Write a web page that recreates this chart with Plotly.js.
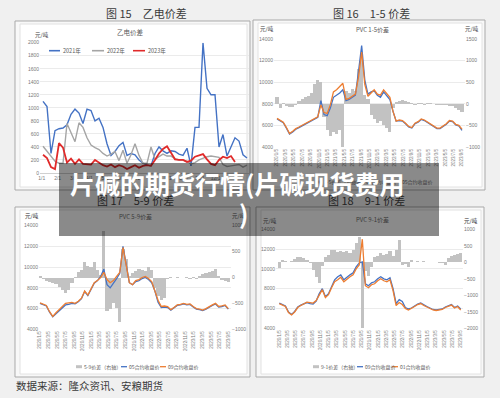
<!DOCTYPE html>
<html><head><meta charset="utf-8">
<script src="https://cdn.plot.ly/plotly-3.0.1.min.js"></script>
<style>html,body{margin:0;padding:0;background:#f0f0f0;}#chart{width:500px;height:398px;}</style>
</head><body><div id="chart"></div>
<script>
// ---------- data ----------
const monthLabels15 = ['1/1','2/1','3/1','4/1','5/1','6/1','7/1','8/1','9/1','10/1','11/1','12/1'];
const names15 = ['2021年','2022年','2023年'];
const y2021 = [1100,1020,300,650,680,690,740,900,980,920,760,980,960,800,840,700,450,270,330,420,470,270,300,280,200,150,120,110,300,400,340,300,340,330,290,270,380,110,700,700,2000,1300,1200,1200,400,590,260,410,540,490,280,230];
const y2022 = [410,330,250,180,150,150,760,620,480,770,700,540,430,390,360,300,260,290,330,190,350,150,280,450,270,150,150,400,210,250,290,260,260,220,200,200,180,140,160,200,230,250,260,250,240,130,100,110,120,130,90,120];
const y2023 = [280,230,90,60,460,390,160,220,140,210,140,130,130,200,160,120,100,130,90,120,100,60,90,120,80,110,120,110,200,300,370,410,310,210,200,200,170,190,250,270,290,210,140,120,200,250,230,260,170];

const dateLabels = ['2020/1/5','2020/3/5','2020/5/5','2020/7/5','2020/9/5','2020/11/5','2021/1/5','2021/3/5','2021/5/5','2021/7/5','2021/9/5','2021/11/5','2022/1/5','2022/3/5','2022/5/5','2022/7/5','2022/9/5','2022/11/5','2023/1/5','2023/3/5','2023/5/5','2023/7/5','2023/9/5'];

// 图16 PVC 1-5价差
const names16 = ['1-5价差（右轴）','01合约收盘价','05合约收盘价'];
const spread16 = [150,-100,30,-40,-80,-70,-20,60,120,150,170,250,450,540,500,-300,-600,-750,-650,-700,-600,-1000,300,250,350,300,800,1100,200,100,-250,-350,-450,-400,-500,-550,-650,-100,50,60,80,60,40,20,-20,20,10,-20,30,10,-10,-20,-30,-20,-30,-50,-60,-100,-150,-200];
const c01_16 = [6600,6400,6250,5750,5200,5400,5650,5800,5950,6100,6250,6400,6550,6750,8300,7000,6900,7600,8600,8800,9000,9300,8300,8400,8600,8800,11000,13400,10200,8900,9100,9200,8800,8600,9100,8700,8400,7300,6400,6450,6400,6150,5850,5750,6150,6300,6550,6450,6250,6050,5850,5700,5700,5900,6100,6400,6350,6050,5950,5550];
const c05_16 = [6650,6450,6300,5800,5250,5450,5700,5850,6000,6200,6350,6500,6650,6800,7900,7200,7100,7900,9100,9300,9600,9900,8400,8500,8700,8900,10500,12800,9800,8700,9000,9300,8900,8800,9300,8900,8600,7300,6400,6500,6450,6200,5900,5800,6200,6350,6600,6500,6300,6100,5900,5750,5750,5950,6150,6450,6400,6100,6000,5650];

// 图17 PVC 5-9价差
const names17 = ['5-9价差（右轴）','05合约收盘价','09合约收盘价'];
const spread17 = [30,-30,-60,-80,-100,-120,-180,-250,-300,-250,-100,10,100,150,300,220,200,300,150,50,900,-650,-600,-500,-580,-850,550,350,20,80,120,170,150,130,200,150,-200,-350,-430,-400,-20,10,-10,10,0,-10,10,-20,10,-30,20,60,90,110,130,170,20,-40,-60,-90];
const c05_17 = [6500,6400,6250,5650,5200,5500,5800,6050,6350,6400,6500,6450,6650,6950,7650,7250,7850,8450,8700,9100,9800,8300,8000,8400,8900,9400,12000,10300,8500,8300,8600,8700,8900,9000,8800,8500,7700,6600,6100,6150,6100,5850,6050,6300,6350,6450,6350,6400,6150,5950,5900,5800,5950,6150,6300,6450,6150,6200,6300,5950];
const c09_17 = [6550,6450,6300,5700,5250,5600,5900,6200,6500,6550,6600,6500,6700,7000,7700,7300,7900,8500,8700,9000,9500,8800,8500,8700,9100,9500,11900,10200,8500,8300,8700,8800,9000,9100,8900,8600,7800,6800,6200,6250,6200,5900,6100,6350,6400,6500,6400,6450,6200,6000,5950,5850,6000,6200,6350,6500,6200,6250,6350,6000];

// 图18 PVC 9-1价差
const names18 = ['9-1价差（右轴）','09合约收盘价','01合约收盘价'];
const spread18 = [-180,70,30,20,40,100,150,170,120,70,-30,-230,-450,-640,-100,150,220,370,360,320,350,300,330,280,370,580,780,-2000,-250,-430,-150,170,200,270,230,260,350,200,380,680,-80,-50,-130,60,20,30,20,30,10,20,0,10,-20,-30,-80,120,200,230,260,280];
const c09_18 = [6550,6400,6250,5650,5400,5700,6150,6350,6450,6600,6500,6450,6750,7500,8000,7200,7500,8200,8900,9200,9400,8900,9200,9400,9600,10200,10600,10700,8500,8300,8600,8700,9000,9200,9000,8900,9100,8000,6500,6900,6700,6100,5950,6050,6250,6450,6550,6350,6200,6050,5900,5850,5900,5950,6150,6300,6400,6100,6250,5950];
const c01_18 = [6500,6350,6200,5600,5350,5650,6100,6300,6500,6650,6600,6550,6800,7400,7900,7100,7400,8100,8700,8900,9150,8700,9000,9200,9400,10000,10400,13000,8300,8100,8400,8500,8800,9000,8800,8700,8900,7800,6300,6600,6400,6000,5850,6000,6200,6400,6500,6300,6150,6000,5850,5800,5850,5900,6100,6250,6350,6050,6200,5850];

// ---------- layout helpers ----------
const W = 500, H = 398;
const fx = p => p / W;
const fy = p => 1 - p / H;
const CJK = '"Noto Sans CJK SC", "Noto Sans", sans-serif';
const NUM = '"Liberation Sans", Arial, sans-serif';
const BLUE = '#4472c4', ORANGE = '#ed7d31', GRAY = '#a5a5a5', RED = '#e02a2a', BAR = '#c2c2c2';

const idx = arr => arr.map((_, i) => i);
const dateTicks = dateLabels.map((_, k) => k * 59 / (dateLabels.length - 1));
const monthTicks = monthLabels15.map((_, m) => m * 3.95 - 0.3);

const traces = [
  {x: idx(y2021), y: y2021, type: 'scatter', mode: 'lines', line: {color: BLUE, width: 1.4}, xaxis: 'x', yaxis: 'y'},
  {x: idx(y2022), y: y2022, type: 'scatter', mode: 'lines', line: {color: GRAY, width: 1.4}, xaxis: 'x', yaxis: 'y'},
  {x: idx(y2023), y: y2023, type: 'scatter', mode: 'lines', line: {color: RED, width: 1.8}, xaxis: 'x', yaxis: 'y'},

  {x: idx(spread16), y: spread16, type: 'bar', marker: {color: BAR, line: {width: 0}}, xaxis: 'x2', yaxis: 'y2'},
  {x: idx(c01_16), y: c01_16, type: 'scatter', mode: 'lines', line: {color: BLUE, width: 1.3}, xaxis: 'x2', yaxis: 'y3'},
  {x: idx(c05_16), y: c05_16, type: 'scatter', mode: 'lines', line: {color: ORANGE, width: 1.3}, xaxis: 'x2', yaxis: 'y3'},

  {x: idx(spread17), y: spread17, type: 'bar', marker: {color: BAR, line: {width: 0}}, xaxis: 'x3', yaxis: 'y4'},
  {x: idx(c05_17), y: c05_17, type: 'scatter', mode: 'lines', line: {color: BLUE, width: 1.3}, xaxis: 'x3', yaxis: 'y5'},
  {x: idx(c09_17), y: c09_17, type: 'scatter', mode: 'lines', line: {color: ORANGE, width: 1.3}, xaxis: 'x3', yaxis: 'y5'},

  {x: idx(spread18), y: spread18, type: 'bar', marker: {color: BAR, line: {width: 0}}, xaxis: 'x4', yaxis: 'y6'},
  {x: idx(c09_18), y: c09_18, type: 'scatter', mode: 'lines', line: {color: BLUE, width: 1.3}, xaxis: 'x4', yaxis: 'y7'},
  {x: idx(c01_18), y: c01_18, type: 'scatter', mode: 'lines', line: {color: ORANGE, width: 1.3}, xaxis: 'x4', yaxis: 'y7'}
];

const tickF = {size: 5, color: '#7a7a7a', family: NUM};
const baseY = {ticks: '', showline: false, zeroline: false, tickfont: tickF, tickformat: 'd', fixedrange: true};
const dateX = {tickvals: dateTicks, ticktext: dateLabels, tickangle: -90, tickfont: {size: 4.5, color: '#7a7a7a', family: NUM},
  showgrid: false, zeroline: false, showline: false, ticks: '', fixedrange: true};

const layout = {
  width: W, height: H, margin: {l: 0, r: 0, t: 0, b: 0},
  paper_bgcolor: '#f0f0f0', plot_bgcolor: 'rgba(0,0,0,0)', showlegend: false,
  bargap: 0, font: {family: NUM},
  xaxis: {domain: [fx(40), fx(249)], range: [-0.75, 51.5], anchor: 'y', tickvals: monthTicks, ticktext: monthLabels15,
    tickfont: {size: 5, color: '#7a7a7a', family: NUM}, showgrid: false, zeroline: false, showline: true, linecolor: '#d0d0d0', linewidth: 1, ticks: '', fixedrange: true},
  yaxis: Object.assign({}, baseY, {domain: [fy(173), fy(42.7)], range: [0, 2000], dtick: 200, anchor: 'x', showgrid: true, gridcolor: '#ebebeb'}),

  xaxis2: Object.assign({}, dateX, {domain: [fx(274), fx(465)], range: [-0.96, 59.96], anchor: 'y2'}),
  yaxis2: Object.assign({}, baseY, {domain: [fy(147), fy(39)], range: [-1000, 1500], dtick: 500, side: 'right', anchor: 'x2', showgrid: false}),
  yaxis3: Object.assign({}, baseY, {range: [4000, 14000], dtick: 2000, side: 'left', overlaying: 'y2', anchor: 'x2', showgrid: true, gridcolor: '#ebebeb'}),

  xaxis3: Object.assign({}, dateX, {domain: [fx(39), fx(231)], range: [-0.31, 59.85], anchor: 'y4'}),
  yaxis4: Object.assign({}, baseY, {domain: [fy(329.3), fy(225.7)], range: [-1000, 1000], dtick: 500, side: 'right', anchor: 'x3', showgrid: false}),
  yaxis5: Object.assign({}, baseY, {range: [4000, 14000], dtick: 2000, side: 'left', overlaying: 'y4', anchor: 'x3', showgrid: true, gridcolor: '#ebebeb'}),

  xaxis4: Object.assign({}, dateX, {domain: [fx(276), fx(463)], range: [-1.07, 59.75], anchor: 'y6'}),
  yaxis6: Object.assign({}, baseY, {domain: [fy(328.3), fy(229.3)], range: [-2000, 1000], dtick: 500, side: 'right', anchor: 'x4', showgrid: false}),
  yaxis7: Object.assign({}, baseY, {range: [4000, 14000], dtick: 2000, side: 'left', overlaying: 'y6', anchor: 'x4', showgrid: true, gridcolor: '#ebebeb'}),
  shapes: [], annotations: []
};

function rect(x0, y0, x1, y1, fill, line, layer) {
  layout.shapes.push({type: 'rect', xref: 'paper', yref: 'paper', x0: fx(x0), x1: fx(x1), y0: fy(y1), y1: fy(y0),
    fillcolor: fill, line: line ? {color: line, width: 1} : {width: 0}, layer: layer || 'below'});
}
function seg(x0, x1, y, color, w) {
  layout.shapes.push({type: 'line', xref: 'paper', yref: 'paper', x0: fx(x0), x1: fx(x1), y0: fy(y), y1: fy(y),
    line: {color: color, width: w || 1.3}, layer: 'below'});
}
function ann(x, y, text, size, color, xanchor, family) {
  layout.annotations.push({xref: 'paper', yref: 'paper', x: fx(x), y: fy(y), text: text, showarrow: false,
    xanchor: xanchor || 'center', yanchor: 'middle', borderpad: 0,
    font: {size: size, color: color, family: family || CJK}});
}

// panels
rect(15, 21, 250, 190, '#f8f8f8', '#a9a9a9');
rect(20, 24, 247, 187, '#ffffff', '#e2e2e2');
rect(253, 20, 485, 190, '#f8f8f8', '#a9a9a9');
rect(258, 23, 482, 187, '#ffffff', '#e2e2e2');
rect(15, 207, 250, 377, '#f8f8f8', '#a9a9a9');
rect(20, 210, 247, 374, '#ffffff', '#e2e2e2');
rect(256, 207, 484, 377, '#f8f8f8', '#a9a9a9');
rect(261, 210, 481, 374, '#ffffff', '#e2e2e2');

// panel titles
ann(146, 13, '图 15　乙电价差', 11, '#3a3a3a');
ann(371, 13, '图 16　1-5 价差', 11, '#3a3a3a');
ann(135, 199.5, '图 17　5-9 价差', 11, '#222222');
ann(366, 199.5, '图 18　9-1 价差', 11, '#222222');

// chart titles & units
ann(130, 32, '乙电价差', 6.5, '#595959');
ann(42, 35, '元/吨', 5.5, '#404040');
ann(372, 29, 'PVC 1-5价差', 6, '#595959');
ann(267, 29, '元/吨', 5.5, '#404040');
ann(472, 29, '元/吨', 5.5, '#404040');
ann(135, 216, 'PVC 5-9价差', 6, '#3a3a3a');
ann(32, 216, '元/吨', 5.5, '#2a2a2a');
ann(239, 216, '元/吨', 5.5, '#2a2a2a');
ann(372, 219, 'PVC 9-1价差', 6, '#3a3a3a');
ann(270, 221, '元/吨', 5.5, '#2a2a2a');
ann(471, 221, '元/吨', 5.5, '#2a2a2a');

// legends
const legCol15 = [BLUE, GRAY, RED];
[[49, 60], [92, 104], [133, 145]].forEach((p, k) => { seg(p[0], p[1], 50.7, legCol15[k], 1.6); ann(p[1] + 2, 50.7, names15[k], 5.5, '#595959', 'left'); });
const legCol = [BAR, BLUE, ORANGE];
[[316, 322], [358, 364], [394, 400]].forEach((p, k) => { seg(p[0], p[1], 182, legCol[k], k === 0 ? 3 : 1.3); ann(p[1] + 1, 182, names16[k], 5, '#3a3a3a', 'left'); });
[[76, 82], [121, 127], [160, 166]].forEach((p, k) => { seg(p[0], p[1], 366.7, legCol[k], k === 0 ? 3 : 1.3); ann(p[1] + 1, 366.7, names17[k], 5, '#595959', 'left'); });
[[313, 319], [357, 363], [392, 398]].forEach((p, k) => { seg(p[0], p[1], 366.7, legCol[k], k === 0 ? 3 : 1.3); ann(p[1] + 1, 366.7, names18[k], 5, '#595959', 'left'); });

// source
ann(15, 385, '数据来源：隆众资讯、安粮期货', 10.5, '#3a3a3a', 'left');

// caption overlay
rect(59, 163, 439, 236, 'rgba(0,0,0,0.46)', null, 'above');
ann(69, 183, '<b>片碱的期货行情(片碱现货费用</b>', 25, '#ffffff', 'left');
ann(243, 213, '<b>)</b>', 25, '#ffffff', 'center');

Plotly.newPlot('chart', traces, layout, {staticPlot: true, displayModeBar: false});
</script></body></html>
